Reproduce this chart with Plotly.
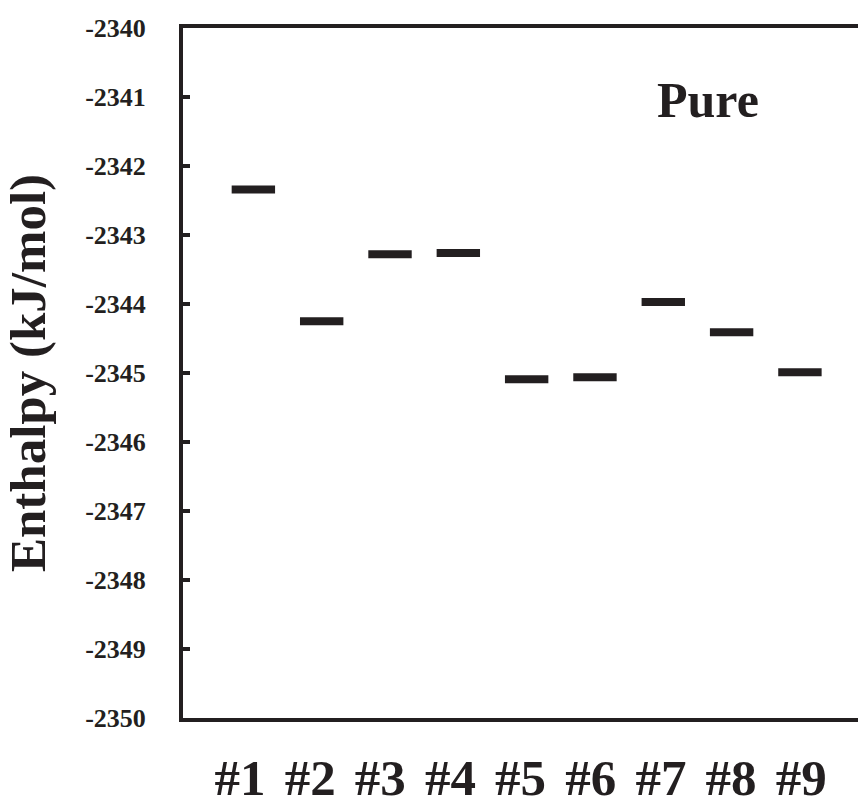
import plotly.graph_objects as go

categories = ["#1", "#2", "#3", "#4", "#5", "#6", "#7", "#8", "#9"]
enthalpy = [-2342.34, -2344.25, -2343.28, -2343.26, -2345.09, -2345.06, -2343.97, -2344.41, -2344.99]
y_ticks = [-2340, -2341, -2342, -2343, -2344, -2345, -2346, -2347, -2348, -2349, -2350]
y_tick_labels = [str(v) for v in y_ticks]

positions = list(range(1, len(categories) + 1))
FONT = "Liberation Serif"
INK = "#231f20"

fig = go.Figure()
fig.add_trace(go.Scatter(
    x=positions, y=enthalpy, mode="markers",
    marker=dict(symbol="line-ew", size=31, line=dict(width=8, color=INK), color=INK),
    hoverinfo="skip", showlegend=False,
))
# invisible trace carrying the category label axis
fig.add_trace(go.Scatter(
    x=positions, y=enthalpy, mode="markers", xaxis="x2",
    marker=dict(size=1, opacity=0), hoverinfo="skip", showlegend=False,
))

fig.update_layout(
    width=858, height=807,
    margin=dict(l=183, r=0, t=28, b=89, autoexpand=False),
    paper_bgcolor="white", plot_bgcolor="white",
    font=dict(family=FONT, color=INK),
    xaxis=dict(
        range=[-0.03, 9.85], showgrid=False, zeroline=False,
        showline=True, linewidth=4, linecolor=INK, mirror=True,
        showticklabels=False, ticks="", automargin=False,
    ),
    xaxis2=dict(
        overlaying="x", anchor="y", side="bottom",
        range=[0.187, 9.81], showgrid=False, zeroline=False, showline=False,
        tickvals=positions, ticktext=categories, ticks="",
        tickfont=dict(family=FONT, size=51, color=INK, weight="bold"),
        ticklabelstandoff=25, automargin=False,
    ),
    yaxis=dict(
        range=[-2350, -2340], showgrid=False, zeroline=False,
        showline=True, linewidth=4, linecolor=INK, mirror=False,
        tickvals=y_ticks, ticktext=y_tick_labels,
        ticks="inside", ticklen=7, tickwidth=4, tickcolor=INK,
        tickfont=dict(family=FONT, size=26, color=INK, weight="bold"),
        ticklabelstandoff=28, automargin=False,
        title=dict(text="Enthalpy (kJ/mol)", standoff=25,
                   font=dict(family=FONT, size=51, color=INK, weight="bold")),
    ),
    annotations=[dict(
        text="Pure", x=0.778, y=0.896, xref="paper", yref="paper",
        showarrow=False, xanchor="center", yanchor="middle",
        font=dict(family=FONT, size=50, color=INK, weight="bold"),
    )],
)

fig.write_html("out.html")
